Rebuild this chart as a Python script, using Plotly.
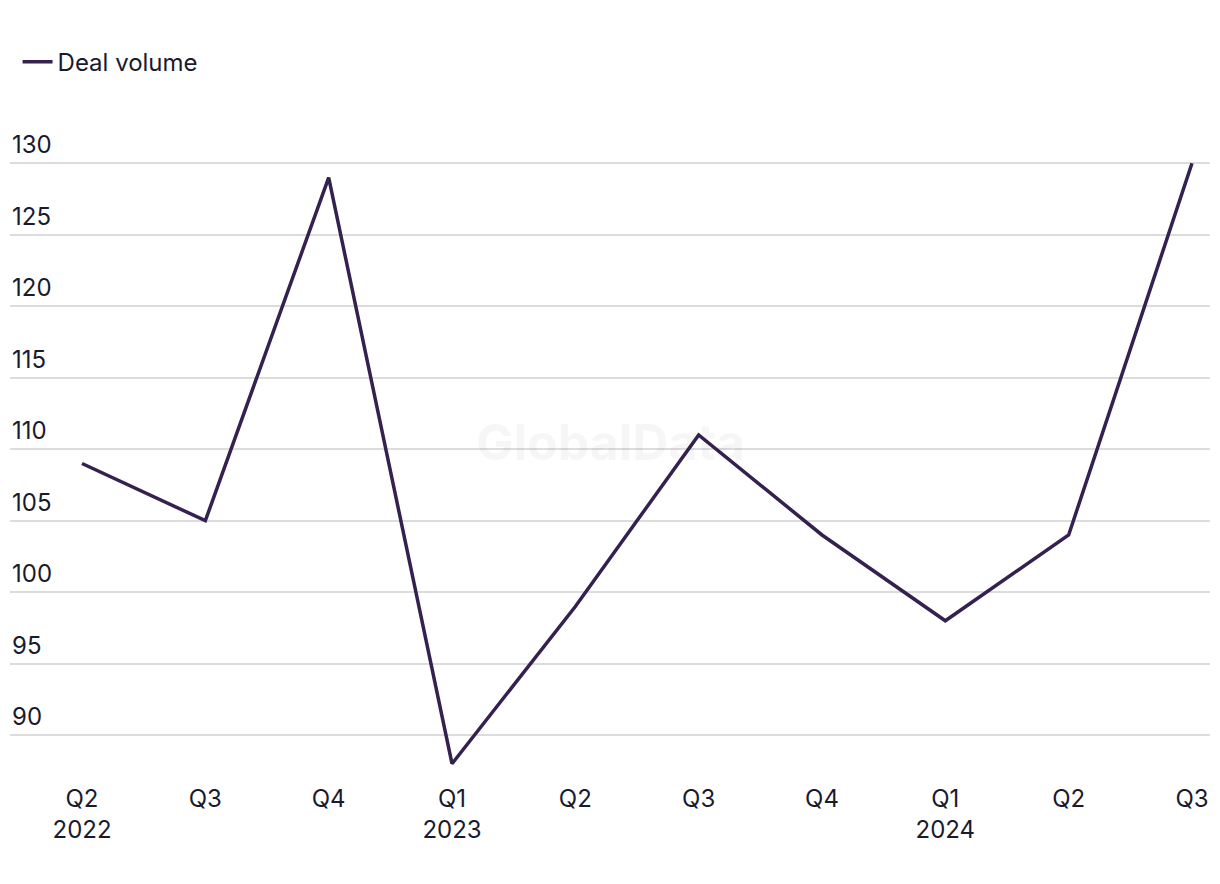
import plotly.graph_objects as go

quarters = ["Q2<br>2022", "Q3", "Q4", "Q1<br>2023", "Q2", "Q3", "Q4", "Q1<br>2024", "Q2", "Q3"]
deal_volume = [109, 105, 129, 88, 99, 111, 104, 98, 104, 130]
y_ticks = [90, 95, 100, 105, 110, 115, 120, 125, 130]

FONT = "Inter"
TXT = "#1a1a2e"
FS = 24

x_idx = list(range(len(quarters)))

fig = go.Figure()
fig.add_trace(go.Scatter(
    x=x_idx, y=deal_volume, mode="lines", name="Deal volume",
    line=dict(color="#35214f", width=3.5),
))

annotations = [dict(text="<b>GlobalData</b>", x=0.5, y=0.535, xref="paper", yref="paper",
                    showarrow=False, font=dict(family=FONT, size=50, color="rgba(0,0,0,0.035)"))]
for v in y_ticks:
    annotations.append(dict(text=str(v), x=0, y=v, xref="paper", yref="y",
                            xanchor="left", yanchor="bottom", showarrow=False, yshift=2,
                            font=dict(family=FONT, size=FS, color=TXT)))

fig.update_layout(
    width=1212, height=876,
    margin=dict(l=2, r=10, t=151, b=116),
    paper_bgcolor="white", plot_bgcolor="white",
    font=dict(family=FONT, size=FS, color=TXT),
    showlegend=True,
    legend=dict(x=0.0063, y=1.159, xanchor="left", yanchor="middle",
                font=dict(family=FONT, size=FS, color=TXT), bgcolor="rgba(0,0,0,0)"),
    xaxis=dict(range=[-0.584, 9.146], tickmode="array", tickvals=x_idx, ticktext=quarters,
               showgrid=False, zeroline=False, showline=False, ticks="", automargin=False,
               ticklabelstandoff=14,
               tickfont=dict(family=FONT, size=FS, color=TXT)),
    yaxis=dict(range=[87.7, 130.3], tickmode="array", tickvals=y_ticks, showticklabels=False,
               showgrid=True, gridcolor="#dcdcdc", gridwidth=1.5, zeroline=False,
               showline=False, ticks="", automargin=False),
    annotations=annotations,
)

fig.write_html("out.html")
